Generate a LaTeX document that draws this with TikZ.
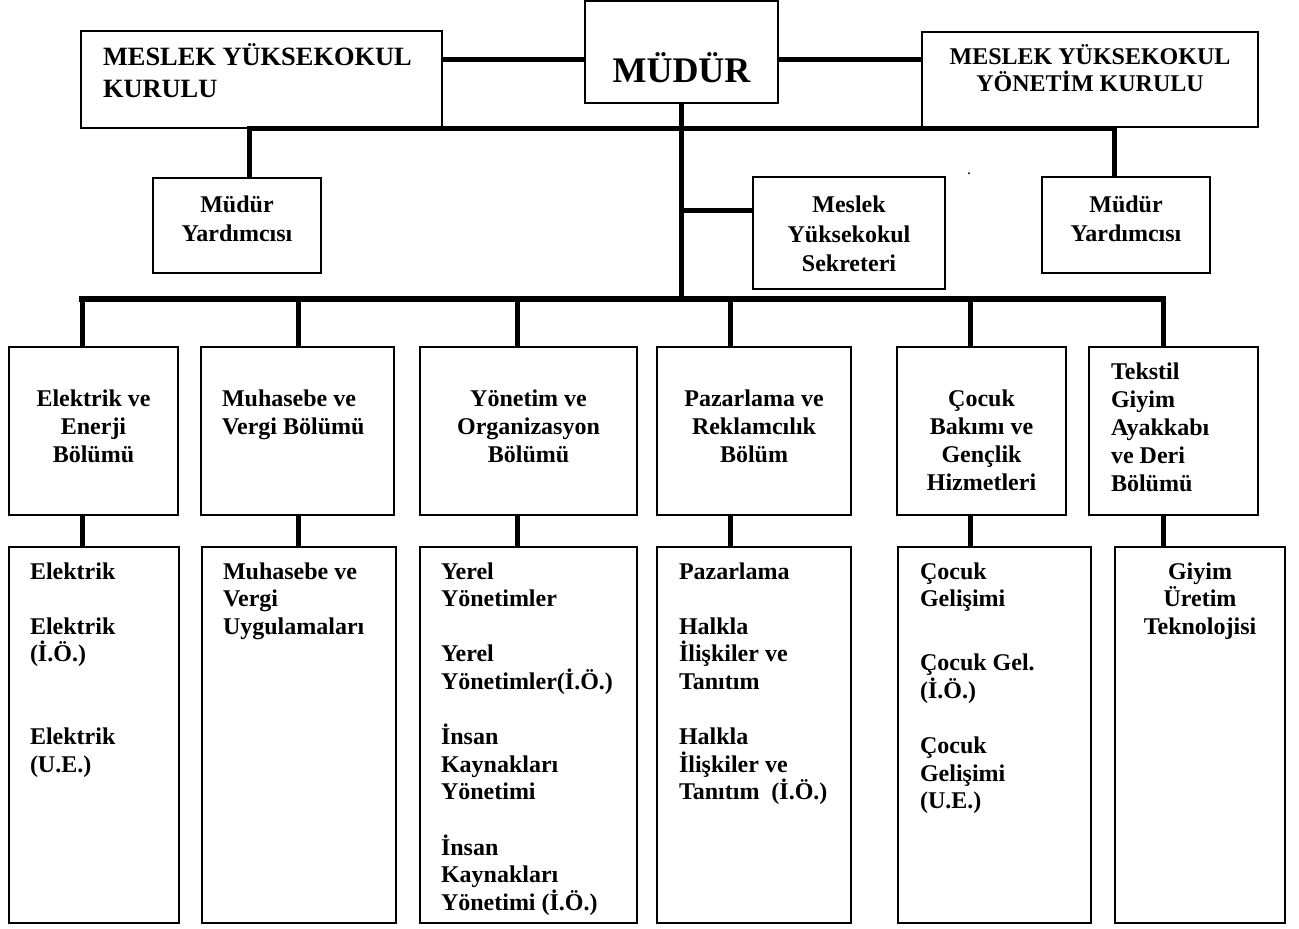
\documentclass[tikz,border=0pt]{standalone}
\usepackage{fontspec}
\setmainfont{Liberation Serif}
\usepackage{tikz}
\hyphenpenalty=10000
\exhyphenpenalty=10000

\begin{document}
\begin{tikzpicture}[
	        x=0.5pt, y=-0.5pt,
	        unit/.style={
	            draw,
	            line width=0.7pt,
	            inner ysep=0pt,
	            outer sep=0pt,
	            anchor=north west,
	            font=\bfseries\fontsize{12}{13.8}\selectfont
	        },
	        dept/.style={
	            unit,
	            text height=30pt,
	            text depth=54pt,
	            font=\bfseries\fontsize{12}{14}\selectfont
	        },
	        prog/.style={
	            unit,
	            align=flush left,
	            text height=16pt,
	            text depth=172pt
	        },
	        link/.style={
	            line width=2.5pt,
	            draw=black
	        },
	        bus/.style={
	            link,
	            line width=3pt,
	            line cap=rect
	        }
	    ]
	        \useasboundingbox (0,0) rectangle (1299,929);

	        \node[unit, align=flush left, text width=158.5pt, inner xsep=11pt, text height=17.5pt, text depth=31pt,
	            font=\bfseries\fontsize{13.2}{16}\selectfont] (kurul) at (81,31) {MESLEK~YÜKSEKOKUL\\KURULU};
	        \node[unit, align=flush center, text width=86.5pt, inner xsep=5pt, text height=41pt, text depth=10pt,
	            font=\bfseries\fontsize{18}{20}\selectfont] (mudur) at (585,1) {MÜDÜR};
	        \node[unit, align=flush center, text width=158pt, inner xsep=5pt, text height=16.5pt, text depth=31pt,
	            font=\bfseries\fontsize{12}{13.5}\selectfont] (ykurul) at (922,32) {MESLEK~YÜKSEKOKUL\\YÖNETİM~KURULU};

	        \node[unit, align=flush center, text width=76pt, inner xsep=4pt, text height=17.5pt, text depth=30pt,
	            font=\bfseries\fontsize{12}{14.5}\selectfont] (yard1) at (153,178) {Müdür\\Yardımcısı};
	        \node[unit, align=flush center, text width=88pt, inner xsep=4pt, text height=18pt, text depth=38pt,
	            font=\bfseries\fontsize{12}{14.75}\selectfont] (sekreter) at (753,177) {Meslek\\Yüksekokul\\Sekreteri};
	        \node[unit, align=flush center, text width=76pt, inner xsep=4pt, text height=18pt, text depth=30pt,
	            font=\bfseries\fontsize{12}{14.5}\selectfont] (yard2) at (1042,177) {Müdür\\Yardımcısı};
	        \node[inner sep=0pt, font=\fontsize{8}{8}\selectfont] (speck) at (969,174) {.};

	        \node[dept, align=flush center, text width=76.5pt, inner xsep=4pt] (d1) at (9,347) {Elektrik~ve\\Enerji\\Bölümü};
	        \node[dept, align=flush left, text width=75.5pt, inner xsep=10.5pt] (d2) at (201,347) {Muhasebe~ve\\Vergi~Bölümü};
	        \node[dept, align=flush center, text width=100.5pt, inner xsep=4pt] (d3) at (420,347) {Yönetim~ve\\Organizasyon\\Bölümü};
	        \node[dept, align=flush center, text width=89pt, inner xsep=4pt] (d4) at (657,347) {Pazarlama~ve\\Reklamcılık\\Bölüm};
	        \node[dept, align=flush center, text width=76.5pt, inner xsep=4pt] (d5) at (897,347) {Çocuk\\Bakımı~ve\\Gençlik\\Hizmetleri};
	        \node[dept, align=flush left, text width=62.5pt, inner xsep=11pt, text height=16.5pt, text depth=67.5pt] (d6) at (1089,347)
	            {Tekstil\\Giyim\\Ayakkabı\\ve~Deri\\Bölümü};

	        \node[prog, text width=64pt, inner xsep=10.5pt] (p1) at (9,547)
	            {Elektrik\\[13.8pt]Elektrik\\(İ.Ö.)\\[27.6pt]Elektrik\\(U.E.)};
	        \node[prog, text width=76pt, inner xsep=10.5pt] (p2) at (202,547)
	            {Muhasebe~ve\\Vergi\\Uygulamaları};
	        \node[prog, text width=87.5pt, inner xsep=10.5pt] (p3) at (420,547)
	            {Yerel\\Yönetimler\\[13.8pt]Yerel\\Yönetimler(İ.Ö.)\\[13.8pt]İnsan\\Kaynakları\\Yönetimi\\[13.8pt]İnsan\\Kaynakları\\Yönetimi~(İ.Ö.)};
	        \node[prog, text width=75pt, inner xsep=11pt] (p4) at (657,547)
	            {Pazarlama\\[13.8pt]Halkla\\İlişkiler~ve\\Tanıtım\\[13.8pt]Halkla\\İlişkiler~ve\\Tanıtım~~(İ.Ö.)};
	        \node[prog, text width=74.5pt, inner xsep=11pt] (p5) at (898,547)
	            {Çocuk\\Gelişimi\\[18.2pt]Çocuk~Gel.\\(İ.Ö.)\\[13.8pt]Çocuk\\Gelişimi\\(U.E.)};
	        \node[prog, align=flush center, text width=77pt, inner xsep=4pt] (p6) at (1115,547)
	            {Giyim\\Üretim\\Teknolojisi};

	        \coordinate (busA) at (249,129);
	        \coordinate (busB) at (1114,129);
	        \coordinate (busC) at (82,299);
	        \coordinate (busD) at (1163,299);

	        \draw[link] ([yshift=9.75pt]kurul.east) -- ([yshift=-4pt]mudur.west);
	        \draw[link] ([yshift=-4pt]mudur.east) -- ([yshift=9.75pt]ykurul.west);
	        \draw[link, line cap=rect] (busA) -- (busB);
	        \draw[link] (busA) -- (busA |- yard1.north);
	        \draw[link] (busB) -- (busB |- yard2.north);
	        \draw[link] (mudur.south) -- (mudur.south |- busC);
	        \draw[link] ([yshift=11pt]sekreter.west) -| (mudur.south);
	        \draw[bus] (busC) -- (busD);

	        \foreach \n/\x in {1/82, 2/298, 3/517, 4/730, 5/970, 6/1163} {
	            \draw[link] (busC -| \x,0) -- (d\n.north -| \x,0);
	            \draw[link] (d\n.south -| \x,0) -- (p\n.north -| \x,0);
	        }
	    \end{tikzpicture}
\end{document}
